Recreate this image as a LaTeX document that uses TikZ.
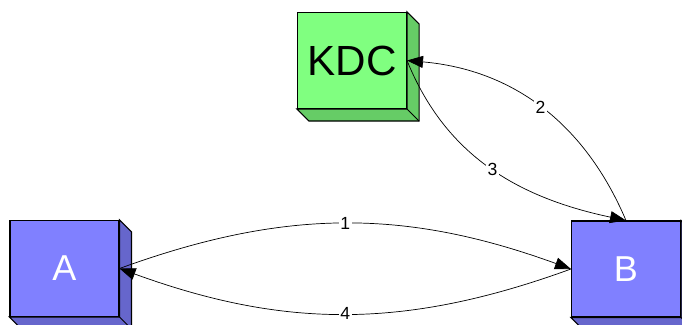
\documentclass[tikz,border=0pt]{standalone}
\usepackage{fontspec}
\setmainfont{Liberation Sans}
\usetikzlibrary{arrows.meta,calc}
\definecolor{kdcgreen}{HTML}{80FF80}
\definecolor{kdcside}{HTML}{66CC66}
\definecolor{hostblue}{HTML}{8080FF}
\definecolor{hostside}{HTML}{6666CC}

% right and bottom faces of a box3d node
\newcommand{\cubeside}[2]{%
  \filldraw[semithick, fill=#2] (#1.north east) -- ++(0.24,-0.24)
    |- ($(#1.south west)+(0.24,-0.24)$) -- (#1.south west)
    -- (#1.south east) -- cycle;
  \draw[semithick] (#1.south east) -- ++(0.24,-0.24);}

\begin{document}
\begin{tikzpicture}[
  arr/.style={-{Triangle[length=0.32cm, width=0.24cm]}, line width=0.4pt},
  cube/.style={draw, semithick, minimum width=2.18cm, minimum height=1.92cm,
    inner sep=0pt, font=\fontsize{20.5}{24}\selectfont},
  lbl/.style={fill=white, inner sep=1pt, font=\fontsize{10}{12}\selectfont},
]
\useasboundingbox (0,0) rectangle (13.64,-6.5);

\node[cube, fill=kdcgreen, font=\fontsize{24}{28}\selectfont] (kdc) at (7.04,-1.21) {KDC};
\node[cube, fill=hostblue, text=white] (a) at (1.29,-5.37) {A};
\node[cube, fill=hostblue, text=white] (b) at (12.52,-5.38) {B};
\cubeside{kdc}{kdcside}
\cubeside{a}{hostside}
\cubeside{b}{hostside}

\draw[arr] (a.east) to[out=20, in=160] node[lbl]{1} (b.west);
\draw[arr] (b.north) to[out=113, in=-5] node[lbl]{2} (kdc.east);
\draw[arr] (kdc.east) to[out=-68, in=168] node[lbl]{3} (b.north);
\draw[arr] (b.west) to[out=200, in=-20] node[lbl]{4} (a.east);
\end{tikzpicture}
\end{document}
